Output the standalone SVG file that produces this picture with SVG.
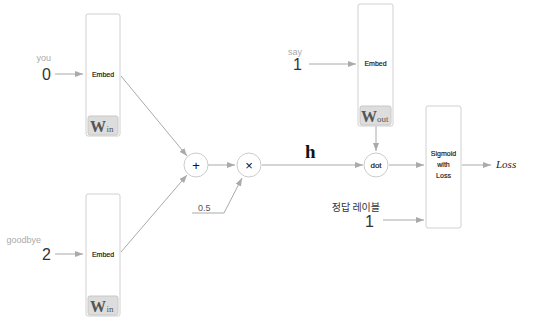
<svg xmlns="http://www.w3.org/2000/svg" width="538" height="324" viewBox="0 0 538 324">
<defs>
<marker id="ah" viewBox="0 0 8 6" refX="8" refY="3" markerWidth="8" markerHeight="6" markerUnits="userSpaceOnUse" orient="auto">
<path d="M0,0 L8,3 L0,6 Z" fill="#aaa"/>
</marker>
<style>
.box{fill:#fff;stroke:#d0d0d0;stroke-width:1}
.wbox{fill:#ddd;stroke:#c8c8c8;stroke-width:1}
.circ{fill:#fff;stroke:#ccc;stroke-width:1}
.ln{fill:none;stroke:#aaa;stroke-width:1}
.arr{fill:none;stroke:#aaa;stroke-width:1;marker-end:url(#ah)}
.sm{font-family:"Liberation Sans",Arial,sans-serif;font-size:7px;fill:#111;text-anchor:middle;stroke:#111;stroke-width:0.15}
.lbl{font-family:"Liberation Sans",Arial,sans-serif;font-size:9px;fill:#aaa;text-anchor:end}
.num{font-family:"Liberation Sans",Arial,sans-serif;font-size:16px;fill:#333;text-anchor:end}
.W{font-family:"Liberation Serif","Times New Roman",serif;font-weight:bold;font-size:16px;fill:#555}
.sub{font-family:"Liberation Serif","Times New Roman",serif;font-size:9px;fill:#555}
.op{font-family:"Liberation Sans",Arial,sans-serif;font-size:13px;fill:#111;text-anchor:middle}
</style>
</defs>
<g id="connectors">
<line class="arr" x1="55" y1="74" x2="83" y2="74"/>
<line class="arr" x1="55" y1="254" x2="83" y2="254"/>
<line class="arr" x1="121" y1="76" x2="187" y2="156"/>
<line class="arr" x1="121" y1="252" x2="187" y2="175"/>
<line class="arr" x1="208" y1="165" x2="235" y2="165"/>
<polyline class="arr" points="192,213 224,213 242,178"/>
<line class="ln" x1="262" y1="165" x2="300" y2="165"/>
<line class="arr" x1="300" y1="165" x2="363" y2="165"/>
<line class="arr" x1="309" y1="64" x2="356" y2="64"/>
<line class="arr" x1="376" y1="126" x2="376" y2="151"/>
<line class="arr" x1="389" y1="165" x2="424" y2="165"/>
<line class="arr" x1="383" y1="220" x2="424" y2="220"/>
<line class="arr" x1="462" y1="165" x2="491" y2="165"/>
</g>
<g id="input-you">
<text class="lbl" x="51" y="61">you</text>
<text class="num" x="51" y="80">0</text>
</g>
<g id="input-goodbye">
<text class="lbl" x="41" y="243">goodbye</text>
<text class="num" x="51" y="260">2</text>
</g>
<g id="embed-in-1">
<rect class="box" x="86" y="14" width="34" height="122" rx="2"/>
<text class="sm" x="103" y="77">Embed</text>
<rect class="wbox" x="88" y="116" width="30" height="19" rx="2"/>
<text x="90" y="132"><tspan class="W">W</tspan><tspan class="sub" dx="0.5">in</tspan></text>
</g>
<g id="embed-in-2">
<rect class="box" x="86" y="194" width="34" height="122" rx="2"/>
<text class="sm" x="103" y="257">Embed</text>
<rect class="wbox" x="88" y="296" width="30" height="19" rx="2"/>
<text x="90" y="312"><tspan class="W">W</tspan><tspan class="sub" dx="0.5">in</tspan></text>
</g>
<g id="plus">
<circle class="circ" cx="196" cy="165" r="12"/>
<text class="op" x="196" y="169.5">+</text>
</g>
<g id="times">
<circle class="circ" cx="249" cy="165" r="12"/>
<text class="op" x="249" y="169.5">×</text>
</g>
<g id="half">
<text x="198" y="211" style="font-family:'Liberation Sans',Arial,sans-serif;font-size:9px;fill:#555">0.5</text>
</g>
<g id="h-label">
<text x="305" y="158" style="font-family:'Liberation Serif','Times New Roman',serif;font-weight:bold;font-size:19px;fill:#111">h</text>
</g>
<g id="input-say">
<text class="lbl" x="302" y="55">say</text>
<text class="num" x="302" y="70">1</text>
</g>
<g id="embed-out">
<rect class="box" x="358" y="4" width="35" height="122" rx="2"/>
<text class="sm" x="375.5" y="66">Embed</text>
<rect class="wbox" x="360" y="106" width="31" height="19" rx="2"/>
<text x="361" y="122"><tspan class="W">W</tspan><tspan class="sub" dx="0">out</tspan></text>
</g>
<g id="dot">
<circle class="circ" cx="376" cy="165" r="12"/>
<text class="sm" x="376" y="168" style="font-size:8px">dot</text>
</g>
<g id="label-input">
<text x="380" y="211" style="font-family:'Noto Sans CJK KR','Liberation Sans',sans-serif;font-size:10px;fill:#333;text-anchor:end">정답 레이블</text>
<text class="num" x="374" y="227">1</text>
</g>
<g id="sigmoid">
<rect class="box" x="426" y="106" width="35" height="122" rx="2"/>
<text class="sm" x="443.5" y="156">Sigmoid</text>
<text class="sm" x="443.5" y="167">with</text>
<text class="sm" x="443.5" y="178">Loss</text>
</g>
<g id="loss">
<text x="496" y="168" style="font-family:'Liberation Serif','Times New Roman',serif;font-style:italic;font-size:11px;fill:#222">Loss</text>
</g>
</svg>
